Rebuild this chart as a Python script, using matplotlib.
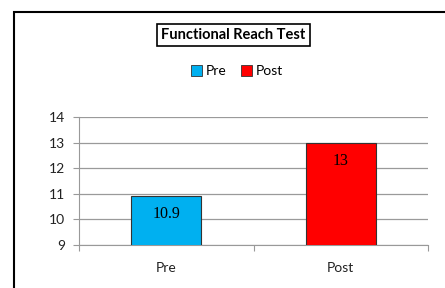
import matplotlib.pyplot as plt
from matplotlib.patches import Rectangle, Patch

categories = ['Pre', 'Post']
values = [10.9, 13]
colors = ['#00B0F0', '#FF0000']
y_ticks = [9, 10, 11, 12, 13, 14]

plt.rcParams['font.family'] = ['Lato', 'DejaVu Sans']

fig = plt.figure(figsize=(4.45, 2.88), dpi=100)
ax = fig.add_axes([79 / 445, 1 - 245 / 288, 349 / 445, 128 / 288])

x = range(len(categories))
bars = ax.bar(x, values, width=0.4, color=colors, edgecolor='#333333', linewidth=0.8,
              bottom=0, zorder=3)
ax.set_ylim(9, 14)
ax.set_xlim(-0.5, 1.5)
ax.set_yticks(y_ticks)
ax.set_xticks([-0.5, 0.5, 1.5], minor=False)
ax.set_xticklabels([])
ax.set_xticks(list(x), minor=True)
ax.set_xticklabels(categories, minor=True)
ax.tick_params(axis='x', which='minor', length=0, pad=12, labelsize=10, colors='#222222')
ax.tick_params(axis='x', which='major', length=4, color='#999999')
ax.tick_params(axis='y', length=4, color='#999999', labelsize=10, pad=6, labelcolor='#222222')
ax.grid(axis='y', color='#9a9a9a', linewidth=0.9, zorder=0)
for s in ['top', 'right']:
    ax.spines[s].set_visible(False)
for s in ['left', 'bottom']:
    ax.spines[s].set_color('#999999')

for b, v in zip(bars, values):
    ax.annotate(f'{v:g}', (b.get_x() + b.get_width() / 2, v), xytext=(0, -13),
                textcoords='offset points', ha='center', va='center',
                fontsize=11.5, family='Liberation Serif')

fig.text(233 / 445, 1 - 35 / 288, 'Functional Reach Test', ha='center', va='center',
         fontsize=10.5, fontweight='bold',
         bbox=dict(boxstyle='square,pad=0.3', fc='white', ec='black', lw=1.2))

handles = [Patch(facecolor=c, edgecolor='#333333', linewidth=0.6) for c in colors]
fig.legend(handles, categories, loc='center', bbox_to_anchor=(237 / 445, 1 - 71 / 288),
           ncol=2, frameon=False, fontsize=10, handlelength=0.8, handleheight=0.8,
           handletextpad=0.3, columnspacing=1.0)

fig.patches.append(Rectangle((14 / 445, -0.1), 1.0, 1 - 12 / 288 + 0.1,
                             transform=fig.transFigure, fill=False, ec='black', lw=1.5))

fig.savefig('out.png', dpi=100)
